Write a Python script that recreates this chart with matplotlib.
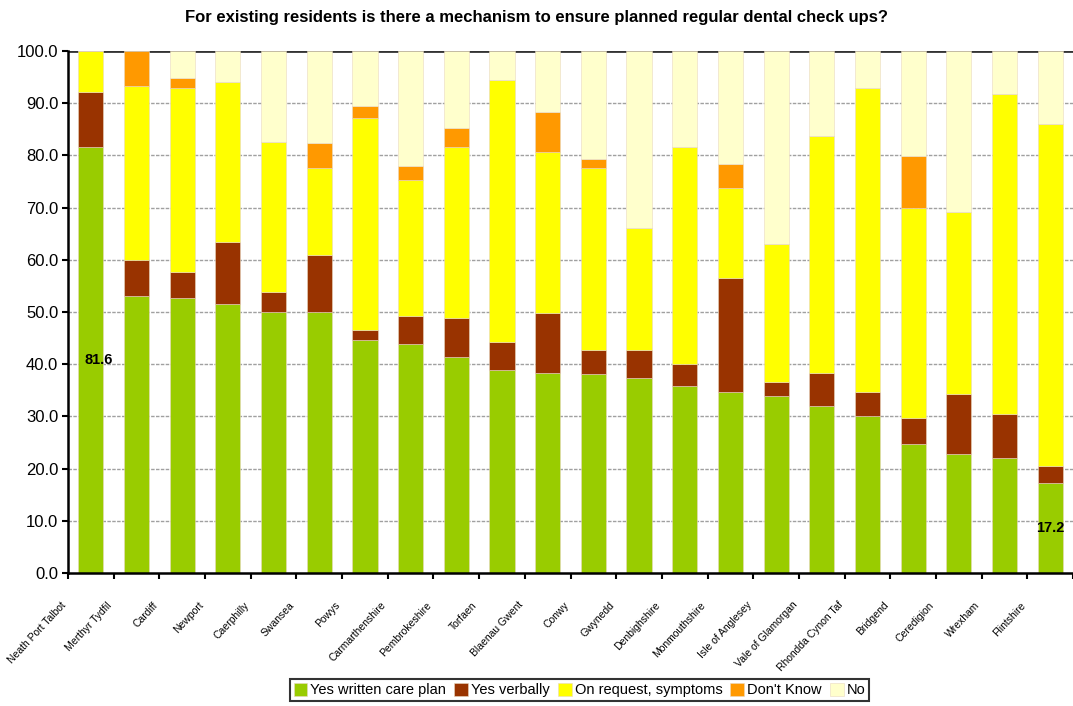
import matplotlib.pyplot as plt
import matplotlib.transforms as mtransforms
import numpy as np

plt.rcParams['font.family'] = ['Liberation Sans', 'DejaVu Sans']

# Local authorities, sorted by share with a written care plan
areas = ['Neath Port Talbot', 'Merthyr Tydfil', 'Cardiff', 'Newport', 'Caerphilly',
         'Swansea', 'Powys', 'Carmarthenshire', 'Pembrokeshire', 'Torfaen',
         'Blaenau Gwent', 'Conwy', 'Gwynedd', 'Denbighshire', 'Monmouthshire',
         'Isle of Anglesey', 'Vale of Glamorgan', 'Rhondda Cynon Taf', 'Bridgend',
         'Ceredigion', 'Wrexham', 'Flintshire']

# Percentages
written = [81.6, 53.0, 52.6, 51.5, 50.0, 50.0, 44.6, 43.8, 41.4, 38.8, 38.4,
           38.1, 37.3, 35.8, 34.6, 33.9, 31.9, 30.0, 24.7, 22.7, 22.0, 17.2]
verbally = [10.5, 6.9, 5.0, 11.9, 3.8, 11.0, 1.9, 5.4, 7.4, 5.4, 11.5,
            4.6, 5.4, 4.2, 21.9, 2.6, 6.5, 4.6, 4.9, 11.5, 8.4, 3.2]
on_request = [7.9, 33.3, 35.3, 30.6, 28.7, 16.5, 40.6, 26.0, 32.9, 50.2, 30.7,
              34.8, 23.3, 41.7, 17.2, 26.5, 45.3, 58.3, 40.3, 34.9, 61.3, 65.6]
dont_know = [0.0, 6.8, 1.9, 0.0, 0.0, 4.9, 2.3, 2.7, 3.5, 0.0, 7.7,
             1.9, 0.0, 0.0, 4.7, 0.0, 0.0, 0.0, 9.9, 0.0, 0.0, 0.0]
no = [0.0, 0.0, 5.2, 6.0, 17.5, 17.6, 10.6, 22.1, 14.8, 5.6, 11.7,
      20.6, 34.0, 18.3, 21.6, 37.0, 16.3, 7.1, 20.2, 30.9, 8.3, 14.0]

series = [('Yes written care plan', written, '#99cc00'),
          ('Yes verbally', verbally, '#993300'),
          ('On request, symptoms', on_request, '#ffff00'),
          ("Don't Know", dont_know, '#ff9900'),
          ('No', no, '#ffffcc')]

fig = plt.figure(figsize=(10.73, 7.06), dpi=100)
ax = fig.add_axes([0.0634, 0.1884, 0.9366, 0.7394])

x = np.arange(len(areas))
bottom = np.zeros(len(areas))
for name, vals, color in series:
    vals = np.array(vals)
    ax.bar(x, vals, 0.55, bottom=bottom, color=color, label=name,
           edgecolor='#e8d8c0', linewidth=0.4, zorder=3)
    bottom += vals

# value labels on the first and last bars
for i in (0, len(areas) - 1):
    ax.text(x[i] + (0.18 if i == 0 else 0), written[i] / 2, f'{written[i]:.1f}',
            ha='center', va='center', fontsize=10.5, fontweight='bold', zorder=4)

ax.set_xlim(-0.5, len(areas) - 0.5)
ax.set_ylim(0, 100)
ax.set_yticks(np.arange(0, 101, 10))
ax.set_yticklabels([f'{v:.1f}' for v in np.arange(0, 101, 10)], fontsize=12)
for v in range(10, 100, 10):
    ax.axhline(v, color='#a0a0a0', linestyle=(0, (2.5, 1)), linewidth=1, zorder=1)
ax.axhline(100, color='#333333', linewidth=2, zorder=1)

# ticks between bars, labels at bar centres
ax.set_xticks(np.arange(-0.5, len(areas), 1))
ax.set_xticklabels([])
ax.set_xticks(x, minor=True)
ax.set_xticklabels(areas, minor=True, rotation=47, ha='right', va='top',
                   rotation_mode='anchor', fontsize=7.5,
                   family=['Liberation Sans Narrow', 'Liberation Sans'])
ax.tick_params(axis='x', which='minor', length=0, pad=0)
ax.tick_params(axis='x', which='major', length=4, width=1.5, direction='out')
ax.tick_params(axis='y', length=4, width=1.5, direction='out', pad=3)
offset = mtransforms.ScaledTranslation(-0.3, -0.27, fig.dpi_scale_trans)
for lbl in ax.get_xticklabels(minor=True):
    lbl.set_transform(lbl.get_transform() + offset)

for side in ('top', 'right'):
    ax.spines[side].set_visible(False)
for side in ('left', 'bottom'):
    ax.spines[side].set_linewidth(1.8)
    ax.spines[side].set_zorder(5)

fig.text(0.5, 0.975, 'For existing residents is there a mechanism to ensure planned regular dental check ups?',
         ha='center', va='center', fontsize=12, fontweight='bold')

leg = fig.legend(loc='center', bbox_to_anchor=(0.54, 0.023), ncol=5, fontsize=10.5,
                 frameon=True, fancybox=False, edgecolor='black', handlelength=0.95,
                 handleheight=1.0, handletextpad=0.2, columnspacing=0.55,
                 borderpad=0.25, borderaxespad=0)
leg.get_frame().set_linewidth(1.5)

fig.savefig('out.png', dpi=100)
